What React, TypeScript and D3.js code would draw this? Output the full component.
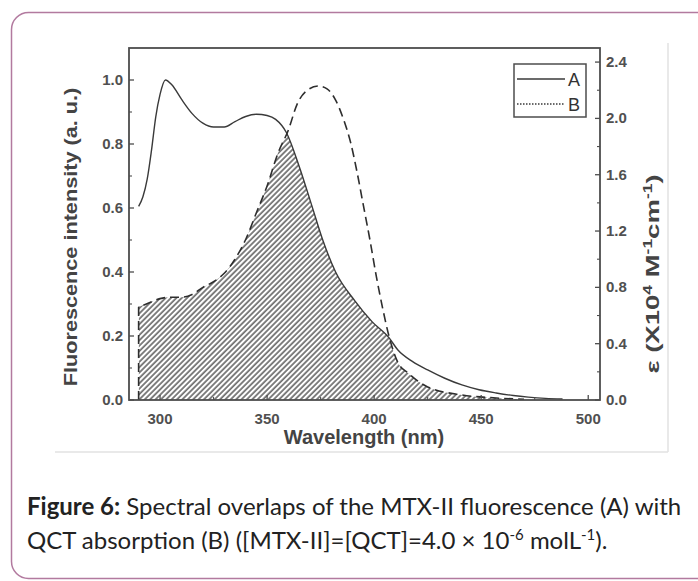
import React from "react";
import * as d3 from "d3";

// Fluorescence of MTX-II (A), left axis
const WAVE_A = [290, 292, 294, 296, 298, 300, 302.5, 305.5, 310, 315, 320, 325, 330, 335, 340, 345, 350, 354, 359, 365, 371, 376, 382, 391, 399, 407, 411, 418, 425, 433, 441, 449, 457, 465, 472, 480, 488];
const FLUOR_A = [0.605, 0.635, 0.69, 0.78, 0.885, 0.955, 1.0, 0.985, 0.94, 0.895, 0.865, 0.853, 0.853, 0.87, 0.886, 0.893, 0.889, 0.877, 0.836, 0.73, 0.605, 0.5, 0.4, 0.31, 0.245, 0.194, 0.157, 0.12, 0.094, 0.068, 0.047, 0.032, 0.022, 0.014, 0.009, 0.005, 0.003];

// Absorption of QCT (B), right axis (x10^4 M^-1 cm^-1)
const WAVE_B = [290, 295, 300, 305, 310, 315, 320, 325, 330, 335, 340, 345, 350, 355, 360, 364, 368, 374, 378, 382, 386, 389, 392, 395, 398, 401, 404, 407, 411, 416, 425, 441, 457, 470];
const EPS_B = [0.66, 0.69, 0.72, 0.73, 0.73, 0.75, 0.8, 0.84, 0.9, 1.0, 1.14, 1.33, 1.52, 1.75, 1.92, 2.1, 2.19, 2.23, 2.21, 2.13, 1.98, 1.83, 1.62, 1.38, 1.14, 0.88, 0.65, 0.45, 0.27, 0.19, 0.093, 0.036, 0.014, 0.005];

const X_TICKS = [300, 350, 400, 450, 500];
const X_MINOR = [325, 375, 425, 475];
const LEFT_TICKS = [0, 0.2, 0.4, 0.6, 0.8, 1.0];
const LEFT_MINOR = [0.1, 0.3, 0.5, 0.7, 0.9];
const RIGHT_TICKS = [0, 0.4, 0.8, 1.2, 1.6, 2.0, 2.4];
const RIGHT_MINOR = [0.2, 0.6, 1.0, 1.4, 1.8, 2.2];
const LEGEND = ["A", "B"];

const W = 698;
const H = 581;
const PL = 129, PR = 600, PT = 48, PB = 400;
const SANS = "Liberation Sans, Arial, sans-serif";

export default function App() {
  const x = d3.scaleLinear().domain([285.5, 505.5]).range([PL, PR]);
  const yL = d3.scaleLinear().domain([0, 1.1]).range([PB, PT]);
  const yR = d3.scaleLinear().domain([0, 2.5]).range([PB, PT]);

  const ptsA = WAVE_A.map((w, i) => [w, FLUOR_A[i]] as [number, number]);
  const ptsB = WAVE_B.map((w, i) => [w, EPS_B[i]] as [number, number]);

  const lineA = d3.line<[number, number]>().x(d => x(d[0])).y(d => yL(d[1])).curve(d3.curveMonotoneX);
  const lineB = d3.line<[number, number]>().x(d => x(d[0])).y(d => yR(d[1])).curve(d3.curveMonotoneX);
  const areaA = d3.area<[number, number]>().x(d => x(d[0])).y0(PB).y1(d => yL(d[1])).curve(d3.curveMonotoneX);
  const areaB = d3.area<[number, number]>().x(d => x(d[0])).y0(PB).y1(d => yR(d[1])).curve(d3.curveMonotoneX);

  const bStart = ptsB[0];
  const pathB = `M${x(bStart[0])},${PB}L${x(bStart[0])},${yR(bStart[1])}` + (lineB(ptsB) || "").replace(/^M/, "L");

  const axisColor = "#4d4d4d";
  const tickFont = { fontFamily: SANS, fontWeight: 700, fontSize: 15, fill: "#505050" } as const;
  const fmt = d3.format(".1f");

  return (
    <svg width={W} height={H} style={{ position: "absolute", left: 0, top: 0, background: "#fff" }}>
      <defs>
        <pattern id="hatch" patternUnits="userSpaceOnUse" width={3.8} height={3.8} patternTransform="rotate(45)">
          <rect width={3.8} height={3.8} fill="#fff" />
          <line x1={1} y1={0} x2={1} y2={3.8} stroke="#404040" strokeWidth={1.3} />
        </pattern>
        <clipPath id="underA">
          <path d={areaA(ptsA) || ""} />
        </clipPath>
      </defs>

      {/* outer rounded frame */}
      <rect x={11.5} y={12.5} width={730} height={566} rx={17} fill="none" stroke="#b27a9f" strokeWidth={1.5} />
      {/* image edge lines */}
      <line x1={668} y1={43} x2={668} y2={452} stroke="#e2e2e2" strokeWidth={1.5} />
      <line x1={55} y1={452} x2={668} y2={452} stroke="#e2e2e2" strokeWidth={1.5} />

      {/* overlap hatch */}
      <path d={areaB(ptsB) || ""} fill="url(#hatch)" clipPath="url(#underA)" />

      {/* curves */}
      <path d={lineA(ptsA) || ""} fill="none" stroke="#3a3a3a" strokeWidth={1.4} />
      <path d={pathB} fill="none" stroke="#2e2e2e" strokeWidth={1.6} strokeDasharray="9 5" />

      {/* frame */}
      <rect x={PL} y={PT} width={PR - PL} height={PB - PT} fill="none" stroke={axisColor} strokeWidth={1.8} />

      {/* bottom ticks */}
      {X_TICKS.map(t => (
        <g key={"xt" + t}>
          <line x1={x(t)} x2={x(t)} y1={PB} y2={PB - 5} stroke={axisColor} strokeWidth={1.3} />
          <text x={x(t)} y={PB + 24} textAnchor="middle" {...tickFont}>{t}</text>
        </g>
      ))}
      {X_MINOR.map(t => (
        <line key={"xm" + t} x1={x(t)} x2={x(t)} y1={PB} y2={PB - 3} stroke={axisColor} strokeWidth={1.1} />
      ))}

      {/* left ticks */}
      {LEFT_TICKS.map(t => (
        <g key={"lt" + t}>
          <line x1={PL} x2={PL + 5} y1={yL(t)} y2={yL(t)} stroke={axisColor} strokeWidth={1.3} />
          <text x={PL - 6} y={yL(t) + 5} textAnchor="end" {...tickFont}>{fmt(t)}</text>
        </g>
      ))}
      {LEFT_MINOR.map(t => (
        <line key={"lm" + t} x1={PL} x2={PL + 3} y1={yL(t)} y2={yL(t)} stroke={axisColor} strokeWidth={1.1} />
      ))}

      {/* right ticks */}
      {RIGHT_TICKS.map(t => (
        <g key={"rt" + t}>
          <line x1={PR} x2={PR - 5} y1={yR(t)} y2={yR(t)} stroke={axisColor} strokeWidth={1.3} />
          <text x={PR + 6} y={yR(t) + 5} textAnchor="start" {...tickFont}>{fmt(t)}</text>
        </g>
      ))}
      {RIGHT_MINOR.map(t => (
        <line key={"rm" + t} x1={PR} x2={PR - 3} y1={yR(t)} y2={yR(t)} stroke={axisColor} strokeWidth={1.1} />
      ))}

      {/* axis titles */}
      <text x={364} y={444} textAnchor="middle" fontFamily={SANS} fontWeight={700} fontSize={20} fill="#444">Wavelength (nm)</text>
      <g transform="translate(77,237) rotate(-90) scale(1.14,1)">
        <text x={0} y={0} textAnchor="middle" fontFamily={SANS} fontWeight={700} fontSize={19} fill="#444">Fluorescence intensity (a. u.)</text>
      </g>
      <g transform="translate(659,274) rotate(-90) scale(1.45,1)">
        <text x={0} y={0} textAnchor="middle" fontFamily={SANS} fontWeight={700} fontSize={19} fill="#444">
          ε (X10<tspan fontSize={12} dy={-7}>4</tspan><tspan dy={7}> M</tspan><tspan fontSize={12} dy={-7}>-1</tspan><tspan dy={7}>cm</tspan><tspan fontSize={12} dy={-7}>-1</tspan><tspan dy={7}>)</tspan>
        </text>
      </g>

      {/* legend */}
      <rect x={514} y={64} width={72} height={53} fill="#fff" stroke={axisColor} strokeWidth={1.5} />
      <line x1={517} x2={565} y1={79} y2={79} stroke="#3a3a3a" strokeWidth={1.4} />
      <line x1={517} x2={565} y1={104} y2={104} stroke="#3a3a3a" strokeWidth={1.4} strokeDasharray="1.5 1.5" />
      {LEGEND.map((l, i) => (
        <text key={l} x={568} y={86 + i * 25} fontFamily={SANS} fontSize={18} fill="#333">{l}</text>
      ))}

      {/* caption */}
      <text x={27} y={515} fontFamily="Lato, sans-serif" fontSize={24} fill="#222">
        <tspan fontWeight={700}>Figure 6:</tspan> Spectral overlaps of the MTX-II fluorescence (A) with
      </text>
      <text x={27} y={549} fontFamily="Lato, sans-serif" fontSize={24} fill="#222">
        QCT absorption (B) ([MTX-II]=[QCT]=4.0 × 10<tspan fontSize={15} dy={-9}>-6</tspan><tspan dy={9}> molL</tspan><tspan fontSize={15} dy={-9}>-1</tspan><tspan dy={9}>).</tspan>
      </text>
    </svg>
  );
}
